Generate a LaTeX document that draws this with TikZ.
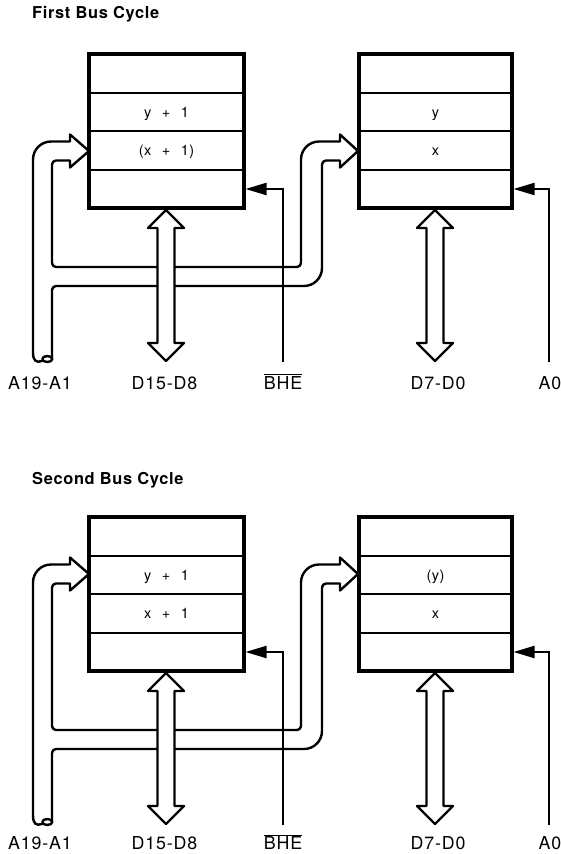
\documentclass[tikz,border=0pt]{standalone}
\usepackage{fontspec}
\usetikzlibrary{arrows.meta}
\setmainfont{TeX Gyre Heros}
\newfontfamily\herosL[LetterSpace=5]{TeX Gyre Heros}
\newfontfamily\herosC[LetterSpace=3]{TeX Gyre Heros}
\newfontfamily\herosT[LetterSpace=4]{TeX Gyre Heros}
\newcommand\lblfont{\herosL\fontsize{17.8}{20}\selectfont}
\newcommand\cellfont{\herosC\fontsize{14.5}{17}\selectfont}
\newcommand\ttlfont{\herosT\bfseries\fontsize{16.4}{19}\selectfont}
\newcommand\cgap{\hspace{10.5pt}}

\tikzset{
  boxnode/.style={draw, line width=3.2pt, minimum height=154pt, inner sep=0pt},
  rowline/.style={line width=2.1pt},
  busline/.style={line width=2.4pt, line join=round, line cap=round},
  sigline/.style={line width=2.1pt},
  lbl/.style={font=\lblfont, inner sep=0pt, anchor=base},
  cell/.style={font=\cellfont, inner sep=0pt, anchor=base},
  ttl/.style={font=\ttlfont, inner sep=0pt, anchor=base west},
  sigtip/.style={-{Triangle[length=21pt,width=12pt]}}
}

% double-headed data arrow centred at x=#1
\newcommand\databus[1]{%
  \draw[busline, fill=white] (#1,210) -- ({#1+18},228) -- ({#1+8.5},228)
    -- ({#1+8.5},343) -- ({#1+18},343) -- (#1,361) -- ({#1-18},343)
    -- ({#1-8.5},343) -- ({#1-8.5},228) -- ({#1-18},228) -- cycle;}

% #1 prefix, #2 yshift, #3 tip y, #4 #5 left texts, #6 #7 right texts, #8 label baseline
\newcommand\buspanel[8]{%
\begin{scope}[yshift=#2]
  % address bus
  \draw[busline] (42,361) .. controls (36,363) and (33,361) .. (33,352)
    -- (33,{#3-9.5+18}) arc[start angle=180, end angle=90, radius=18pt]
    -- (70,{#3-9.5}) -- (70,{#3-16.5}) -- (89,#3) -- (70,{#3+16.5}) -- (70,{#3+9.5})
    -- (56,{#3+9.5}) arc[start angle=90, end angle=180, radius=4pt]
    -- (52,263) arc[start angle=180, end angle=270, radius=4pt]
    -- (297,267) arc[start angle=270, end angle=360, radius=4pt]
    -- (301,{#3-9.5+18}) arc[start angle=180, end angle=90, radius=18pt]
    -- (340,{#3-9.5}) -- (340,{#3-16.5}) -- (358,#3) -- (340,{#3+16.5}) -- (340,{#3+9.5})
    -- (326,{#3+9.5}) arc[start angle=90, end angle=180, radius=4pt]
    -- (322,268) arc[start angle=0, end angle=-90, radius=18pt]
    -- (56,286) arc[start angle=90, end angle=180, radius=4pt]
    -- (52,359);
  \draw[busline] (47.3,359) ellipse [x radius=5pt, y radius=3pt];
  % memory banks
  \node[boxnode, minimum width=155pt] (#1L) at (166.5,131) {};
  \node[boxnode, minimum width=153pt] (#1R) at (435.5,131) {};
  \foreach \r in {93,131,170} {
    \draw[rowline] (89,\r) -- (244,\r);
    \draw[rowline] (359,\r) -- (512,\r);
  }
  \node[cell] (#1L2) at (166.5,117) {#4};
  \node[cell] (#1L3) at (166.5,155.5) {#5};
  \node[cell] (#1R2) at (435.5,117) {#6};
  \node[cell] (#1R3) at (435.5,155.5) {#7};
  % control lines
  \coordinate (#1bheS) at (283,362);
  \coordinate (#1bheT) at (245.5,189);
  \coordinate (#1aoS) at (549,362);
  \coordinate (#1aoT) at (513.5,189);
  \draw[sigline, sigtip] (#1bheS) |- (#1bheT);
  \draw[sigline, sigtip] (#1aoS) |- (#1aoT);
  % data buses
  \databus{166}
  \databus{435}
  % labels
  \node[lbl] (#1la) at (40,#8) {A19-A1};
  \node[lbl] (#1ld) at (164.5,#8) {D15-D8};
  \node[lbl] (#1lb) at (283,#8) {$\overline{\hbox{\lblfont BHE}}$};
  \node[lbl] (#1le) at (438,#8) {D7-D0};
  \node[lbl] (#1lf) at (550,#8) {A0};
\end{scope}}

\begin{document}
\begin{tikzpicture}[x=1pt, y=-1pt]
  \useasboundingbox (0,0) rectangle (561,854);
  \node[ttl] (t1) at (32,18.5) {First Bus Cycle};
  \node[ttl] (t2) at (32,484) {Second Bus Cycle};
  \buspanel{p}{0pt}{151}{y\cgap+\cgap1}{(x\cgap+\cgap1)}{y}{x}{389}
  \buspanel{q}{-463pt}{111}{y\cgap+\cgap1}{x\cgap+\cgap1}{(y)}{x}{386.5}
\end{tikzpicture}
\end{document}
